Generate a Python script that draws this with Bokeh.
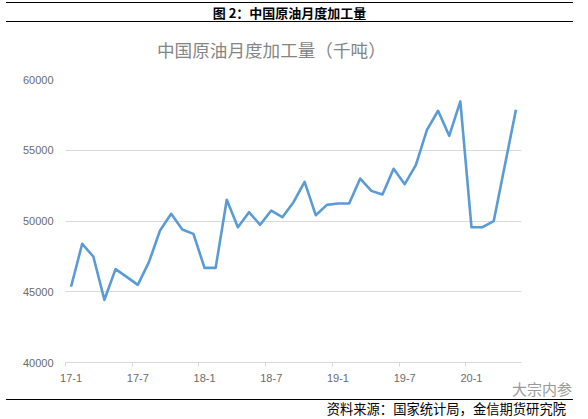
from bokeh.plotting import figure
from bokeh.models import ColumnDataSource, FixedTicker, Range1d, Div
from bokeh.layouts import column
from bokeh.embed import file_html
from bokeh.resources import INLINE

months = ["17-1", "17-2", "17-3", "17-4", "17-5", "17-6", "17-7", "17-8", "17-9", "17-10", "17-11", "17-12",
          "18-1", "18-2", "18-3", "18-4", "18-5", "18-6", "18-7", "18-8", "18-9", "18-10", "18-11", "18-12",
          "19-1", "19-2", "19-3", "19-4", "19-5", "19-6", "19-7", "19-8", "19-9", "19-10", "19-11", "19-12",
          "20-1", "20-2", "20-3", "20-4", "20-5"]
values = [45350, 48390, 47490, 44430, 46600, 46050, 45490, 47090, 49330, 50510,
          49400, 49090, 46690, 46690, 51500, 49560, 50620, 49730, 50740, 50270,
          51330, 52770, 50410, 51140, 51240, 51240, 53000, 52130, 51870, 53690,
          52600, 53950, 56440, 57790, 56020, 58450, 49560, 49560, 49990, 53920, 57860]
tick_labels = ["17-1", "17-7", "18-1", "18-7", "19-1", "19-7", "20-1"]
y_ticks = [40000, 45000, 50000, 55000, 60000]

header = "图 2：中国原油月度加工量"
chart_title = "中国原油月度加工量（千吨）"
source_note = "资料来源：国家统计局，金信期货研究院"
watermark = "大宗内参"

idx = list(range(len(months)))
src = ColumnDataSource(dict(x=idx, y=values, m=months))

W = 588
HEAD_H = 65
FRAME_TOP, FRAME_BOTTOM = 79, 362
AXIS_H = 24
FIG_H = FRAME_BOTTOM - HEAD_H + AXIS_H
FOOT_H = 419 - HEAD_H - FIG_H

p = figure(width=W, height=FIG_H, output_backend="svg", toolbar_location=None,
           x_range=Range1d(-0.5, len(months) - 0.5), y_range=Range1d(40000, 60000),
           min_border_left=65, min_border_right=W - 521, min_border_top=FRAME_TOP - HEAD_H,
           min_border_bottom=AXIS_H)
p.outline_line_color = None
p.background_fill_color = "white"
p.border_fill_color = "white"

p.line("x", "y", source=src, line_color="#5B9BD5", line_width=2.6, line_join="round")

tick_pos = [idx[months.index(t)] for t in tick_labels]
p.xaxis.ticker = FixedTicker(ticks=tick_pos, minor_ticks=[t - 0.5 for t in tick_pos])
p.xaxis.major_label_overrides = {tp: lab for tp, lab in zip(tick_pos, tick_labels)}
p.xaxis.axis_line_color = "#d9d9d9"
p.xaxis.major_tick_line_color = None
p.xaxis.major_tick_out = 0
p.xaxis.minor_tick_line_color = "#d9d9d9"
p.xaxis.minor_tick_out = 4
p.xaxis.minor_tick_in = 0
p.xaxis.major_label_standoff = 7
p.xaxis.major_label_text_font = "Liberation Sans"
p.xaxis.major_label_text_font_size = "11px"
p.xaxis.major_label_text_color = "#6b6b6b"

p.yaxis.ticker = FixedTicker(ticks=y_ticks)
p.yaxis.axis_line_color = None
p.yaxis.major_tick_line_color = None
p.yaxis.minor_tick_line_color = None
p.yaxis.major_tick_out = 0
p.yaxis.major_label_standoff = 12
p.yaxis.major_label_text_font = "Liberation Sans"
p.yaxis.major_label_text_font_size = "11px"
p.yaxis.major_label_text_color = "#6b6b6b"

p.xgrid.grid_line_color = None
p.ygrid.grid_line_color = "#d9d9d9"
p.ygrid.grid_line_width = 1

head_div = Div(width=W, height=HEAD_H, margin=0, text=(
    '<div style="margin:2px 0 0 6px;width:567px;height:20px;border-top:1.5px solid #000;'
    'border-bottom:1.5px solid #000;text-align:center;font-family:\'Noto Sans CJK SC\';'
    'font-weight:bold;font-size:13px;line-height:20px;color:#000;">' + header + '</div>'
    '<div style="margin:18px 0 0 157px;height:20px;font-family:\'Noto Sans CJK SC\';'
    'font-size:17.6px;line-height:20px;color:#858585;white-space:nowrap;">' + chart_title + '</div>'))
foot_div = Div(width=W, height=FOOT_H, margin=0, text=(
    '<div style="position:relative;height:11px;">'
    '<span style="position:absolute;left:512px;top:-5px;font-family:\'Noto Sans CJK SC\';'
    'font-size:15px;line-height:15px;color:#9a9a9a;white-space:nowrap;">' + watermark + '</span></div>'
    '<div style="margin:2px 0 0 6px;width:567px;box-sizing:border-box;padding-right:7px;'
    'border-top:1.5px solid #000;text-align:right;font-family:\'Noto Sans CJK SC\';'
    'font-size:13.3px;line-height:17px;color:#000;white-space:nowrap;">' + source_note + '</div>'))

layout = column(head_div, p, foot_div, spacing=0)
open("out.html", "w").write(file_html(layout, INLINE))
